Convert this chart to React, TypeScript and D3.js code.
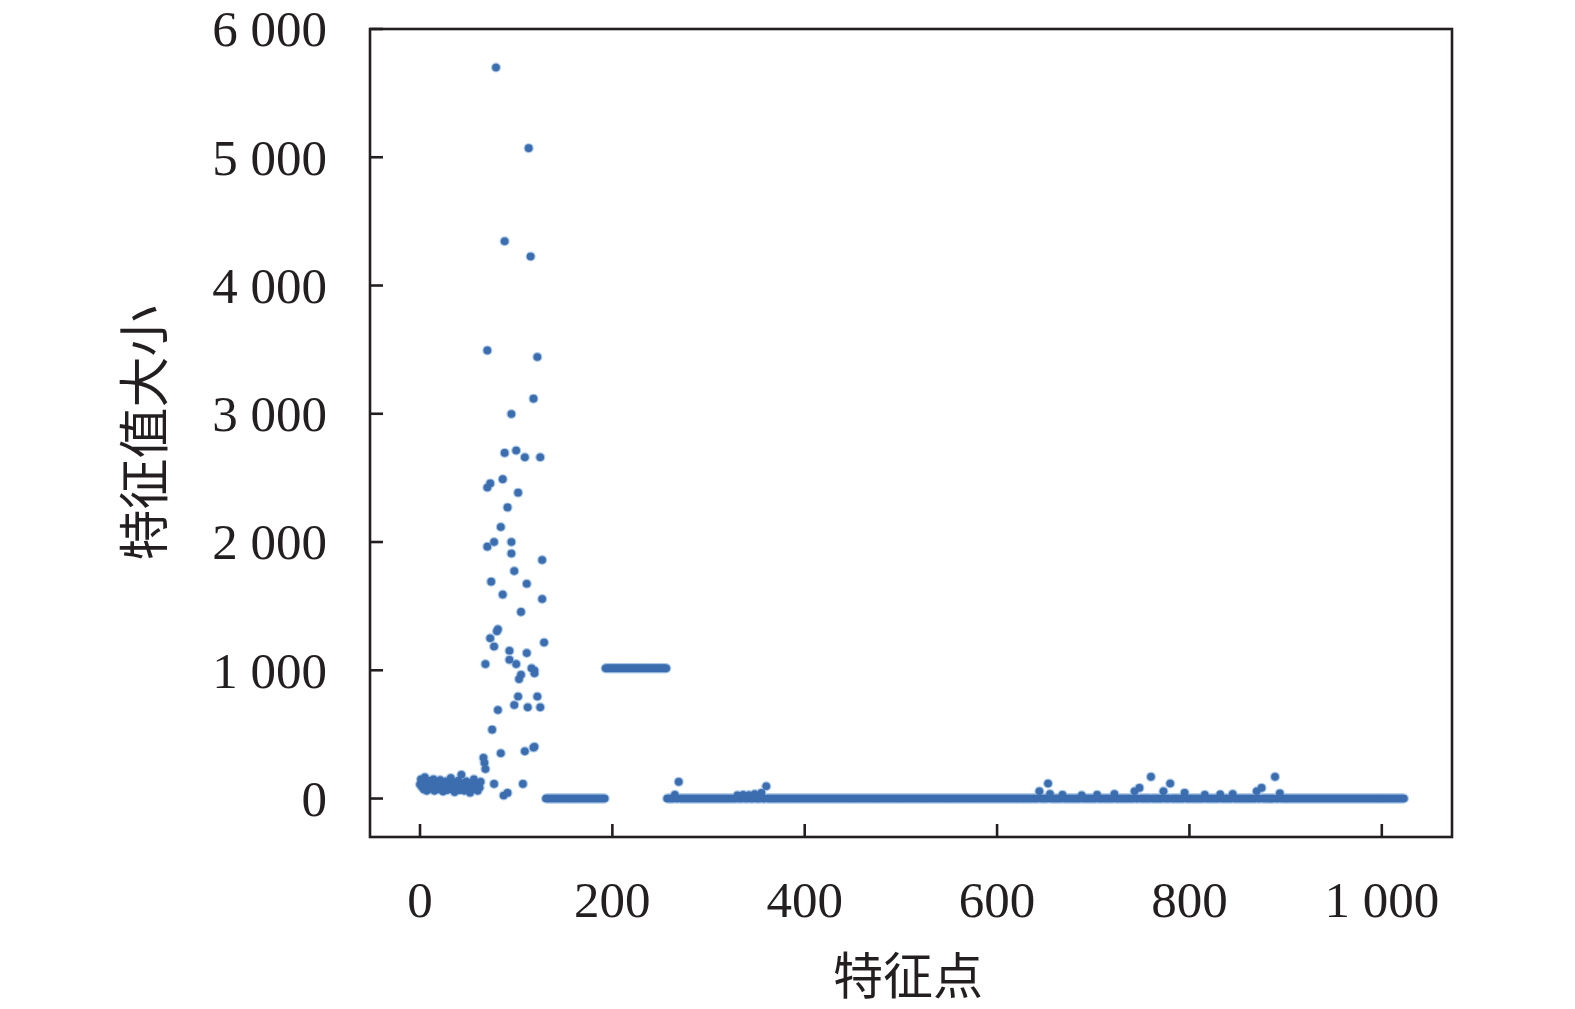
import { formatLocale, scaleLinear } from "d3";

// feature indices 0..63: dense low cluster
const clusterValues = [
  110, 150, 90, 130, 70, 165, 100, 60, 120, 85, 140, 75, 115, 95, 150, 60,
  105, 130, 80, 120, 70, 145, 95, 110, 55, 125, 90, 135, 65, 100, 115, 80,
  160, 70, 120, 95, 50, 130, 85, 110, 140, 65, 105, 185, 90, 120, 60, 100,
  135, 75, 115, 90, 45, 125, 80, 105, 150, 70, 95, 120, 60, 110, 85, 130,
];

// scattered large values, [feature index, value]
const spikePoints: [number, number][] = [
  [66, 317], [67, 278], [68, 230], [68, 1048], [70, 3494], [70, 2425],
  [70, 1964], [73, 2457], [73, 1250], [74, 1691], [75, 537], [77, 2000],
  [77, 1185], [77, 114], [79, 5700], [80, 1305], [81, 1320], [81, 690],
  [84, 2117], [84, 353], [86, 2490], [86, 1590], [87, 23], [88, 4345],
  [88, 2695], [91, 2270], [91, 44], [93, 1152], [93, 1082], [95, 2998],
  [95, 2000], [95, 1911], [98, 1774], [98, 729], [100, 2713], [100, 1048],
  [102, 2385], [102, 796], [103, 931], [105, 1455], [105, 965], [107, 114],
  [109, 2661], [109, 368], [111, 1675], [111, 1134], [112, 711], [113, 5071],
  [115, 4226], [116, 1016], [118, 3118], [118, 397], [119, 998], [119, 977],
  [119, 403], [122, 3442], [122, 796], [125, 2661], [125, 711], [127, 1860],
  [127, 1556], [129, 1216],
];

// flat stretches of equal values, [first index, last index, value]
const flatRuns: [number, number, number][] = [
  [131, 192, 0],
  [193, 256, 1015],
  [257, 1023, 0],
];

// small bumps sitting on the long zero stretch, [feature index, value]
const tailBumps: [number, number][] = [
  [265, 30], [269, 130], [330, 25], [336, 30], [342, 28], [348, 35],
  [355, 44], [360, 96], [644, 57], [653, 117], [655, 35], [668, 30],
  [688, 25], [704, 30], [722, 35], [743, 57], [748, 83], [760, 169],
  [773, 57], [780, 117], [795, 44], [816, 30], [832, 32], [845, 35],
  [870, 57], [875, 83], [889, 169], [894, 40],
];

const xTicks = [0, 200, 400, 600, 800, 1000];
const yTicks = [0, 1000, 2000, 3000, 4000, 5000, 6000];

const xTitle = "特征点";
const yTitle = "特征值大小";

const fmt = formatLocale({
  decimal: ".",
  thousands: " ",
  grouping: [3],
  currency: ["", ""],
}).format(",");

export default function App() {
  const width = 1575;
  const height = 1009;
  const plot = { left: 370, right: 1452, top: 29, bottom: 837 };

  const x = scaleLinear().domain([-52, 1073]).range([plot.left, plot.right]);
  const y = scaleLinear().domain([-300, 6000]).range([plot.bottom, plot.top]);

  const points: [number, number][] = [];
  clusterValues.forEach((v, i) => points.push([i, v]));
  spikePoints.forEach((p) => points.push(p));
  const bumpIdx = new Set(tailBumps.map((b) => b[0]));
  flatRuns.forEach(([from, to, v]) => {
    for (let i = from; i <= to; i++) {
      if (!bumpIdx.has(i)) points.push([i, v]);
    }
  });
  tailBumps.forEach((p) => points.push(p));

  const serif = "'Liberation Serif', 'Times New Roman', serif";
  const cjk = "'Liberation Serif', 'Noto Sans CJK SC', serif";
  const axisColor = "#231f20";

  return (
    <svg
      width={width}
      height={height}
      viewBox={`0 0 ${width} ${height}`}
      style={{ position: "absolute", left: 0, top: 0, background: "#fff" }}
    >
      <g className="halo">
        {points.map(([i, v], k) => (
          <circle key={`h-${k}`} cx={x(i)} cy={y(v)} r={5} fill="#a9c7e7" />
        ))}
      </g>
      <g className="dots">
        {points.map(([i, v], k) => (
          <circle key={`d-${k}`} cx={x(i)} cy={y(v)} r={3.8} fill="#3c6daf" />
        ))}
      </g>

      <rect
        x={plot.left}
        y={plot.top}
        width={plot.right - plot.left}
        height={plot.bottom - plot.top}
        fill="none"
        stroke={axisColor}
        strokeWidth={2.6}
      />

      <g className="y-axis">
        {yTicks.map((t) => (
          <g key={`y-${t}`}>
            <line
              x1={plot.left}
              x2={plot.left + 13}
              y1={y(t)}
              y2={y(t)}
              stroke={axisColor}
              strokeWidth={2.6}
            />
            <text
              x={327}
              y={y(t)}
              dy="0.34em"
              textAnchor="end"
              fontFamily={serif}
              fontSize={51}
              fill={axisColor}
            >
              {fmt(t)}
            </text>
          </g>
        ))}
      </g>

      <g className="x-axis">
        {xTicks.map((t) => (
          <g key={`x-${t}`}>
            <line
              x1={x(t)}
              x2={x(t)}
              y1={plot.bottom}
              y2={plot.bottom - 13}
              stroke={axisColor}
              strokeWidth={2.6}
            />
            <text
              x={x(t)}
              y={917}
              textAnchor="middle"
              fontFamily={serif}
              fontSize={51}
              fill={axisColor}
            >
              {fmt(t)}
            </text>
          </g>
        ))}
      </g>

      <text
        x={(plot.left + plot.right) / 2 - 3}
        y={994}
        textAnchor="middle"
        fontFamily={cjk}
        fontSize={50}
        fill={axisColor}
      >
        {xTitle}
      </text>
      <text
        transform={`translate(146, ${(plot.top + plot.bottom) / 2}) rotate(-90)`}
        textAnchor="middle"
        dominantBaseline="central"
        fontFamily={cjk}
        fontSize={51}
        fill={axisColor}
      >
        {yTitle}
      </text>
    </svg>
  );
}
